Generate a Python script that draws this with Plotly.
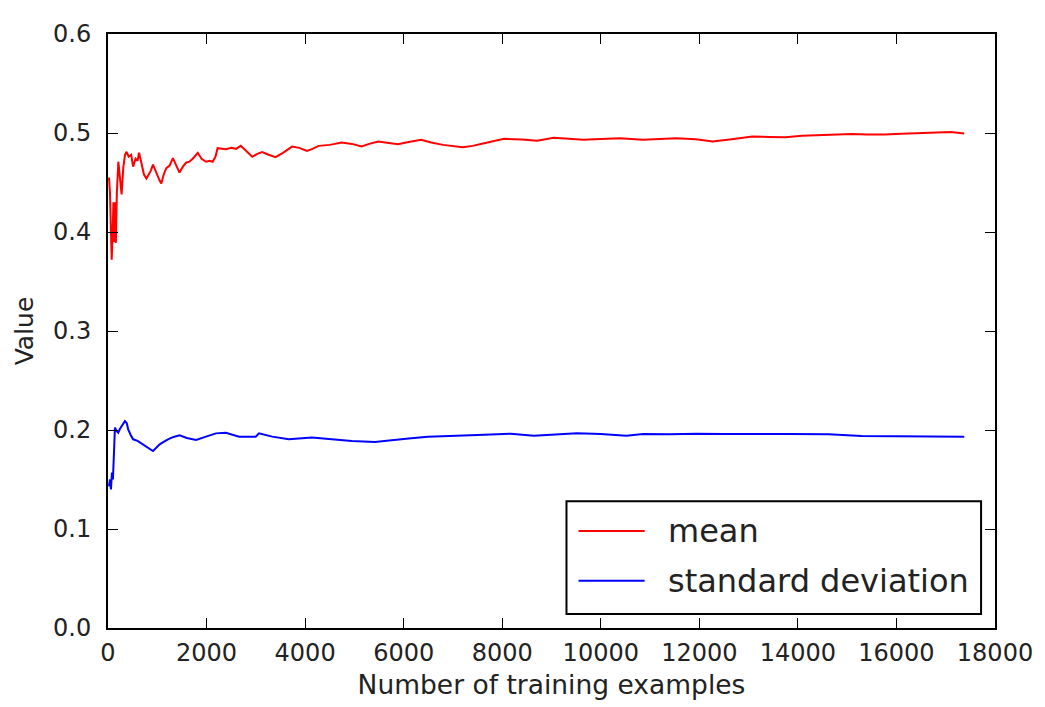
import plotly.graph_objects as go

# Running statistics of the training targets vs. number of examples seen
mean_x = [20, 40, 60, 75, 95, 110, 125, 140, 160, 180, 210, 240, 276, 310, 345, 377, 420, 470,
          510, 560, 600, 631, 680, 730, 780, 830, 870, 913, 960, 1010, 1048, 1082, 1130, 1183,
          1250, 1317, 1380, 1451, 1520, 1585, 1650, 1720, 1821, 1900, 1989, 2060, 2123, 2180,
          2224, 2300, 2392, 2500, 2600, 2694, 2800, 2929, 3030, 3130, 3260, 3399, 3550, 3735,
          3880, 4037, 4150, 4273, 4500, 4743, 4950, 5146, 5300, 5483, 5700, 5886, 6100, 6356,
          6558, 6800, 7197, 7400, 7634, 8037, 8400, 8709, 9045, 9350, 9650, 10000, 10388,
          10858, 11200, 11530, 11933, 12270, 12700, 13076, 13400, 13748, 14084, 14600, 15092,
          15400, 15763, 16100, 16435, 16800, 17107, 17376]
mean_y = [0.455, 0.44, 0.40, 0.372, 0.40, 0.43, 0.39, 0.43, 0.389, 0.44, 0.471, 0.455, 0.438,
          0.465, 0.478, 0.481, 0.476, 0.478, 0.466, 0.474, 0.472, 0.480, 0.468, 0.458, 0.454,
          0.458, 0.462, 0.468, 0.462, 0.455, 0.452, 0.449, 0.458, 0.4645, 0.467, 0.4746,
          0.468, 0.460, 0.466, 0.470, 0.471, 0.474, 0.480, 0.474, 0.471, 0.472, 0.471, 0.476,
          0.4847, 0.484, 0.4837, 0.485, 0.484, 0.487, 0.482, 0.476, 0.479, 0.4807, 0.478,
          0.4756, 0.480, 0.4863, 0.485, 0.482, 0.484, 0.487, 0.488, 0.4904, 0.489, 0.4863,
          0.489, 0.4914, 0.490, 0.4887, 0.491, 0.4931, 0.4904, 0.488, 0.4857, 0.487, 0.4897,
          0.4941, 0.4935, 0.4921, 0.4951, 0.494, 0.4931, 0.494, 0.4948, 0.4931, 0.494, 0.4948,
          0.4938, 0.4914, 0.494, 0.4964, 0.496, 0.4958, 0.4971, 0.498, 0.4991, 0.4985, 0.4984,
          0.4992, 0.4998, 0.5003, 0.5011, 0.4995]

std_x = [20, 40, 60, 80, 100, 120, 141, 175, 208, 240, 276, 310, 343, 380, 410, 460, 510, 600,
         712, 800, 913, 980, 1048, 1130, 1216, 1330, 1451, 1600, 1787, 1989, 2190, 2392, 2661,
         2997, 3064, 3333, 3668, 4139, 4542, 4945, 5415, 5684, 5886, 6100, 6491, 7000, 7500,
         8171, 8641, 9514, 10000, 10522, 10858, 11400, 11941, 12500, 13076, 13800, 14620,
         15293, 16000, 16700, 17376]
std_y = [0.143, 0.150, 0.140, 0.157, 0.150, 0.175, 0.2024, 0.199, 0.1973, 0.201, 0.204, 0.206,
         0.209, 0.207, 0.2007, 0.195, 0.1906, 0.189, 0.1855, 0.183, 0.1788, 0.182, 0.1855,
         0.188, 0.1906, 0.193, 0.1946, 0.192, 0.1899, 0.1933, 0.1966, 0.1973, 0.1933, 0.1933,
         0.1966, 0.1933, 0.1906, 0.1923, 0.1906, 0.189, 0.1879, 0.1895, 0.190, 0.1915, 0.1933,
         0.1945, 0.195, 0.1963, 0.1943, 0.1966, 0.196, 0.1943, 0.196, 0.1958, 0.1963, 0.196,
         0.1963, 0.196, 0.1956, 0.1939, 0.1937, 0.1935, 0.1933]

series = [("mean", mean_x, mean_y, "#ff0000"),
          ("standard deviation", std_x, std_y, "#0000ff")]

x_ticks = [0, 2000, 4000, 6000, 8000, 10000, 12000, 14000, 16000, 18000]
y_ticks = [0.0, 0.1, 0.2, 0.3, 0.4, 0.5, 0.6]

FONT = "DejaVu Sans"
TXT = "#222222"

fig = go.Figure()
for name, xs, ys, color in series:
    fig.add_trace(go.Scatter(x=xs, y=ys, mode="lines", name=name,
                             line=dict(color=color, width=2), showlegend=False))

axis_common = dict(
    showgrid=False, zeroline=False, showline=True, linecolor="black", linewidth=2,
    mirror="allticks", ticks="inside", ticklen=10, tickwidth=1, tickcolor="black",
    tickfont=dict(family=FONT, size=24, color=TXT),
)
fig.update_xaxes(range=[0, 18000], tickvals=x_ticks,
                 ticktext=[str(v) for v in x_ticks], ticklabelstandoff=2,
                 title=dict(text="Number of training examples",
                            font=dict(family=FONT, size=26.5, color=TXT), standoff=10),
                 **axis_common)
fig.update_yaxes(range=[0, 0.6], tickvals=y_ticks,
                 ticktext=[f"{v:.1f}" for v in y_ticks], ticklabelstandoff=10,
                 title=dict(text="Value", font=dict(family=FONT, size=25, color=TXT), standoff=12),
                 **axis_common)

# Legend box in the lower-right corner of the axes
lx0, lx1, ly0, ly1 = 0.5169, 0.9843, 0.0235, 0.2134
fig.add_shape(type="rect", xref="paper", yref="paper", x0=lx0, x1=lx1, y0=ly0, y1=ly1,
              line=dict(color="black", width=2), fillcolor="white", layer="above")
row_y = [0.1635, 0.0795]
for (name, _, _, color), ry in zip(series, row_y):
    fig.add_shape(type="line", xref="paper", yref="paper", x0=0.5305, x1=0.6050, y0=ry, y1=ry,
                  line=dict(color=color, width=2), layer="above")
    fig.add_annotation(xref="paper", yref="paper", x=0.6290, y=ry, text=name,
                       showarrow=False, xanchor="left", yanchor="middle",
                       font=dict(family=FONT, size=32, color=TXT))

fig.update_layout(
    width=1045, height=707,
    margin=dict(l=108, r=44, t=34, b=78),
    paper_bgcolor="white", plot_bgcolor="white",
)

fig.write_html("out.html")
